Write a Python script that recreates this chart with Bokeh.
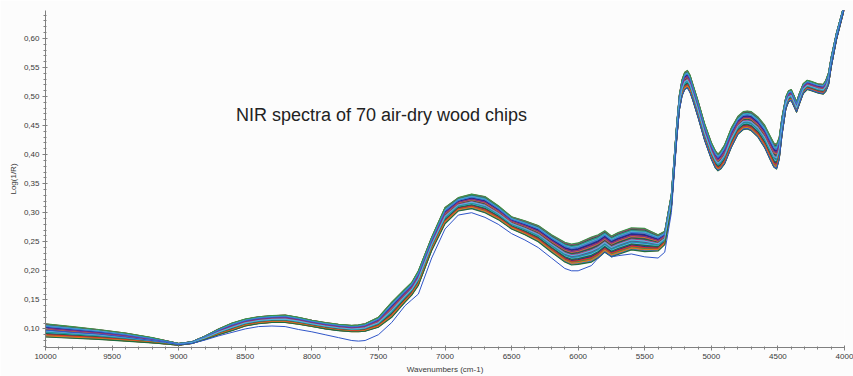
from bokeh.plotting import figure
from bokeh.models import Range1d, FixedTicker, Label, ColumnDataSource
from bokeh.embed import file_html
from bokeh.resources import INLINE

# Wavenumber grid (cm-1) at which the spectral band was read
W = [10000, 9800, 9600, 9400, 9200, 9100, 9000, 8900, 8800, 8700, 8600, 8500,
     8400, 8300, 8200, 8100, 8000, 7900, 7800, 7700, 7650, 7600, 7500, 7400,
     7300, 7250, 7200, 7100, 7000, 6900, 6800, 6700, 6600, 6500, 6400, 6300,
     6200, 6100, 6050, 6000, 5900, 5850, 5800, 5750, 5700, 5600, 5500, 5400,
     5350,
     5300, 5280, 5260, 5240, 5220, 5200, 5180, 5160, 5140, 5100, 5050, 5000,
     4970, 4950, 4930, 4900, 4850, 4800, 4760, 4730, 4700, 4650, 4600, 4560,
     4530, 4510, 4490, 4470, 4440, 4420, 4400, 4380, 4360, 4340, 4310, 4280,
     4250, 4200, 4160, 4140, 4120, 4100, 4060, 4000]

# Lower edge of the bundle of spectra, Log(1/R)
LOW = [0.086, 0.084, 0.082, 0.079, 0.076, 0.074, 0.072, 0.075, 0.082, 0.090, 0.097, 0.105,
       0.109, 0.111, 0.111, 0.108, 0.104, 0.100, 0.097, 0.095, 0.095, 0.096, 0.103, 0.120,
       0.146, 0.158, 0.175, 0.235, 0.281, 0.303, 0.307, 0.300, 0.288, 0.272, 0.262, 0.250,
       0.232, 0.215, 0.210, 0.211, 0.215, 0.222, 0.232, 0.224, 0.228, 0.236, 0.233, 0.234,
       0.245,
       0.308, 0.368, 0.427, 0.477, 0.501, 0.512, 0.515, 0.507, 0.494, 0.464, 0.424, 0.392,
       0.377, 0.372, 0.375, 0.384, 0.412, 0.435, 0.443, 0.444, 0.441, 0.430, 0.412, 0.392,
       0.378, 0.375, 0.392, 0.432, 0.479, 0.491, 0.493, 0.483, 0.473, 0.486, 0.505, 0.512,
       0.510, 0.506, 0.504, 0.509, 0.520, 0.550, 0.598, 0.652]

# Upper edge of the bundle of spectra, Log(1/R)
HIGH = [0.109, 0.104, 0.099, 0.093, 0.085, 0.080, 0.075, 0.078, 0.088, 0.100, 0.110, 0.117,
        0.121, 0.123, 0.124, 0.120, 0.115, 0.111, 0.108, 0.106, 0.107, 0.109, 0.120, 0.146,
        0.169, 0.180, 0.200, 0.258, 0.309, 0.326, 0.332, 0.328, 0.312, 0.293, 0.286, 0.278,
        0.262, 0.249, 0.246, 0.248, 0.258, 0.262, 0.269, 0.260, 0.266, 0.274, 0.273, 0.262,
        0.268,
        0.332, 0.392, 0.453, 0.503, 0.529, 0.542, 0.545, 0.537, 0.522, 0.493, 0.453, 0.421,
        0.407, 0.401, 0.406, 0.417, 0.446, 0.466, 0.474, 0.475, 0.474, 0.465, 0.451, 0.433,
        0.420, 0.418, 0.430, 0.464, 0.500, 0.510, 0.512, 0.502, 0.491, 0.505, 0.522, 0.528,
        0.526, 0.522, 0.521, 0.528, 0.541, 0.568, 0.610, 0.660]

# The one sample that runs clearly below the rest between 8600 and 5300 cm-1
OUTLIER = [0.098, 0.094, 0.091, 0.086, 0.080, 0.077, 0.073, 0.075, 0.081, 0.088, 0.094, 0.100,
           0.104, 0.105, 0.104, 0.099, 0.095, 0.090, 0.085, 0.080, 0.079, 0.080, 0.090, 0.111,
           0.140, 0.150, 0.160, 0.222, 0.272, 0.296, 0.300, 0.292, 0.280, 0.264, 0.253, 0.240,
           0.222, 0.204, 0.200, 0.200, 0.209, 0.222, 0.233, 0.224, 0.226, 0.229, 0.224, 0.222,
           0.232,
           0.300, 0.362, 0.424, 0.476, 0.501, 0.512, 0.515, 0.507, 0.495, 0.465, 0.425, 0.393,
           0.378, 0.373, 0.376, 0.385, 0.413, 0.436, 0.444, 0.445, 0.442, 0.431, 0.413, 0.393,
           0.379, 0.376, 0.393, 0.433, 0.480, 0.492, 0.494, 0.484, 0.474, 0.487, 0.506, 0.513,
           0.511, 0.507, 0.505, 0.510, 0.521, 0.551, 0.599, 0.653]

# Position of each of the other 69 samples inside the band (0 = lower edge, 1 = upper edge)
MIX = [0.47, 0.12, 0.83, 0.36, 0.64, 0.05, 0.91, 0.28, 0.55, 0.72,
       0.19, 0.98, 0.41, 0.60, 0.08, 0.77, 0.33, 0.50, 0.87, 0.24,
       0.68, 0.15, 0.95, 0.44, 0.58, 0.02, 0.81, 0.30, 0.52, 0.74,
       0.21, 0.89, 0.39, 0.62, 0.10, 0.79, 0.35, 0.48, 0.93, 0.26,
       0.70, 0.17, 0.85, 0.43, 0.57, 0.06, 0.76, 0.31, 0.54, 0.97,
       0.22, 0.66, 0.13, 0.88, 0.40, 0.61, 0.04, 0.83, 0.27, 0.49,
       0.73, 0.18, 1.00, 0.37, 0.65, 0.09, 0.80, 0.45, 0.00]

PALETTE = ["#1b2a8a", "#d8342c", "#2f9a48", "#1f9aa0", "#7a2e8e",
           "#e07a1f", "#3a7bd5", "#5ab8e0", "#186a3b", "#b03080"]

Y_TICKS = [0.10, 0.15, 0.20, 0.25, 0.30, 0.35, 0.40, 0.45, 0.50, 0.55, 0.60]
Y_TICK_LABELS = ["0,10", "0,15", "0,20", "0,25", "0,30", "0,35",
                 "0,40", "0,45", "0,50", "0,55", "0,60"]
X_TICKS = [10000, 9500, 9000, 8500, 8000, 7500, 7000, 6500, 6000, 5500, 5000, 4500, 4000]

TITLE = "NIR spectra of 70 air-dry wood chips"

# Build one line per sample
xs, ys, colors = [], [], []
for i, m in enumerate(MIX):
    xs.append(W)
    ys.append([lo + m * (hi - lo) for lo, hi in zip(LOW, HIGH)])
    colors.append(PALETTE[i % len(PALETTE)])

src = ColumnDataSource(data=dict(xs=xs, ys=ys, color=colors))

bg = "#fcfcfc"
p = figure(width=853, height=376, output_backend="svg", toolbar_location=None,
           x_range=Range1d(10000, 4000), y_range=Range1d(0.068, 0.648),
           min_border_left=45, min_border_right=9, min_border_top=10,
           min_border_bottom=29, background_fill_color=bg, border_fill_color=bg,
           outline_line_color=None)
p.grid.visible = False

p.multi_line(xs="xs", ys="ys", line_color="color", line_width=1.1,
             line_alpha=0.95, line_join="round", source=src)
p.line(W, OUTLIER, line_color="#2f55c8", line_width=1.0, line_join="round")

axis_color = "#808080"
label_color = "#3a3a3a"

xa = p.xaxis[0]
xa.ticker = FixedTicker(ticks=X_TICKS, minor_ticks=list(range(4000, 10001, 100)))
xa.axis_label = "Wavenumbers (cm-1)"
ya = p.yaxis[0]
ya.ticker = FixedTicker(ticks=Y_TICKS,
                        minor_ticks=[round(0.07 + 0.01 * k, 2) for k in range(58)])
ya.major_label_overrides = dict(zip(Y_TICKS, Y_TICK_LABELS))
ya.axis_label = "Log(1/R)"

for ax in (xa, ya):
    ax.axis_line_color = axis_color
    ax.major_tick_line_color = axis_color
    ax.minor_tick_line_color = axis_color
    ax.major_tick_in = 2
    ax.major_tick_out = 3
    ax.minor_tick_in = 1
    ax.minor_tick_out = 2
    ax.major_label_text_font = "Liberation Sans"
    ax.major_label_text_font_size = "8px"
    ax.major_label_text_color = label_color
    ax.axis_label_text_font = "Liberation Sans"
    ax.axis_label_text_font_size = "8px"
    ax.axis_label_text_font_style = "normal"
    ax.axis_label_text_color = label_color
    ax.major_label_standoff = 3
    ax.axis_label_standoff = 3

p.add_layout(Label(x=7477, y=0.468, text=TITLE, text_align="center",
                   text_baseline="middle", text_font="Liberation Sans",
                   text_font_size="18px", text_color="#222222"))

open("out.html", "w").write(file_html(p, INLINE))
